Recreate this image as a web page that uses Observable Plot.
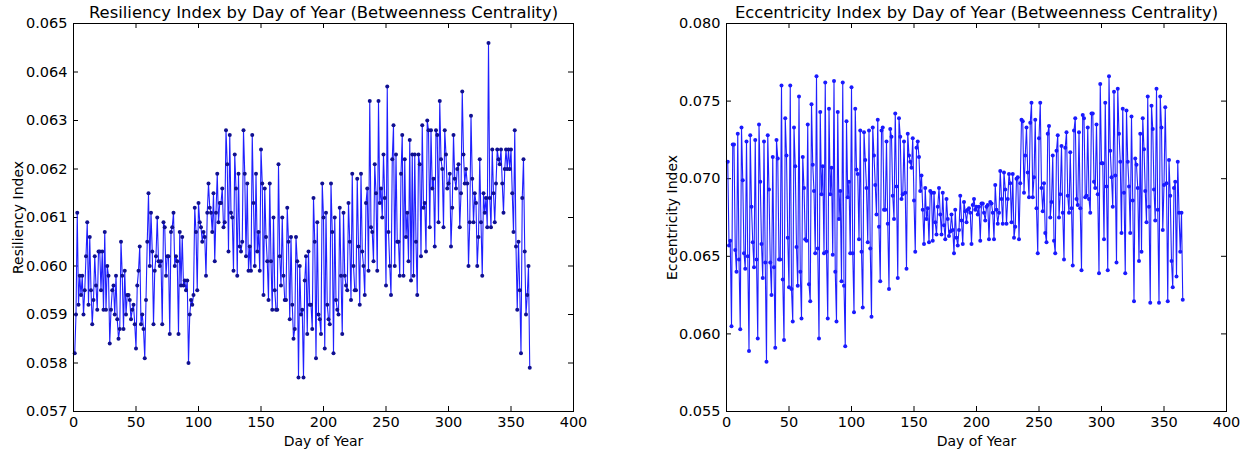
<!DOCTYPE html>
<html>
<head>
<meta charset="utf-8">
<script src="https://cdn.jsdelivr.net/npm/d3@7"></script>
<script src="https://cdn.jsdelivr.net/npm/@observablehq/plot@0.6"></script>
<style>
  html, body { margin: 0; padding: 0; background: #fff; }
  #wrap { display: flex; flex-direction: row; width: 1245px; height: 455px; }
  svg { overflow: visible; }
</style>
</head>
<body>
<div id="wrap"></div>
<script>
// ---- Data ----
const resiliency = [
0.0582,0.0590,0.0611,0.0592,0.0598,0.0594,0.0598,0.0590,0.0595,0.0602,
0.0609,0.0592,0.0606,0.0595,0.0588,0.0593,0.0602,0.0596,0.0591,0.0603,
0.0603,0.0595,0.0603,0.0591,0.0607,0.0591,0.0600,0.0598,0.0584,0.0591,
0.0595,0.0596,0.0590,0.0598,0.0589,0.0585,0.0587,0.0605,0.0598,0.0587,
0.0599,0.0590,0.0594,0.0594,0.0593,0.0589,0.0591,0.0592,0.0588,0.0583,
0.0596,0.0599,0.0604,0.0588,0.0590,0.0587,0.0581,0.0593,0.0605,0.0615,
0.0600,0.0611,0.0603,0.0588,0.0599,0.0602,0.0610,0.0601,0.0600,0.0601,
0.0588,0.0609,0.0608,0.0598,0.0602,0.0602,0.0586,0.0607,0.0608,0.0611,
0.0600,0.0602,0.0601,0.0586,0.0607,0.0596,0.0606,0.0596,0.0597,0.0595,
0.0597,0.0580,0.0590,0.0593,0.0592,0.0594,0.0612,0.0607,0.0595,0.0613,
0.0609,0.0608,0.0605,0.0607,0.0606,0.0598,0.0611,0.0617,0.0612,0.0611,
0.0607,0.0615,0.0601,0.0611,0.0619,0.0609,0.0613,0.0613,0.0616,0.0608,
0.0609,0.0628,0.0621,0.0603,0.0627,0.0611,0.0610,0.0599,0.0623,0.0616,
0.0598,0.0619,0.0604,0.0603,0.0605,0.0628,0.0619,0.0602,0.0617,0.0599,
0.0604,0.0599,0.0627,0.0613,0.0600,0.0619,0.0603,0.0607,0.0599,0.0624,
0.0617,0.0594,0.0616,0.0606,0.0601,0.0593,0.0617,0.0601,0.0591,0.0610,
0.0595,0.0591,0.0591,0.0621,0.0602,0.0596,0.0610,0.0598,0.0593,0.0593,
0.0612,0.0605,0.0589,0.0606,0.0592,0.0585,0.0587,0.0606,0.0601,0.0577,
0.0600,0.0590,0.0591,0.0577,0.0597,0.0602,0.0586,0.0603,0.0592,0.0592,
0.0587,0.0614,0.0605,0.0581,0.0609,0.0590,0.0589,0.0586,0.0617,0.0610,
0.0583,0.0611,0.0592,0.0589,0.0588,0.0617,0.0607,0.0582,0.0610,0.0593,
0.0591,0.0590,0.0612,0.0598,0.0586,0.0611,0.0598,0.0596,0.0595,0.0613,
0.0605,0.0593,0.0619,0.0600,0.0595,0.0595,0.0618,0.0604,0.0592,0.0619,
0.0603,0.0600,0.0594,0.0613,0.0616,0.0599,0.0634,0.0608,0.0607,0.0601,
0.0621,0.0615,0.0599,0.0634,0.0613,0.0616,0.0610,0.0623,0.0614,0.0596,
0.0637,0.0607,0.0600,0.0594,0.0622,0.0629,0.0600,0.0623,0.0605,0.0605,
0.0598,0.0619,0.0627,0.0598,0.0622,0.0606,0.0611,0.0601,0.0626,0.0597,
0.0623,0.0598,0.0623,0.0605,0.0594,0.0623,0.0621,0.0602,0.0629,0.0612,
0.0613,0.0603,0.0630,0.0628,0.0608,0.0628,0.0616,0.0618,0.0604,0.0628,
0.0627,0.0609,0.0634,0.0622,0.0620,0.0608,0.0628,0.0623,0.0616,0.0617,
0.0619,0.0604,0.0612,0.0627,0.0618,0.0616,0.0620,0.0621,0.0608,0.0615,
0.0636,0.0623,0.0617,0.0620,0.0617,0.0600,0.0609,0.0631,0.0618,0.0609,
0.0615,0.0613,0.0600,0.0606,0.0622,0.0609,0.0598,0.0615,0.0611,0.0614,
0.0608,0.0646,0.0614,0.0608,0.0624,0.0615,0.0609,0.0617,0.0624,0.0622,
0.0621,0.0624,0.0617,0.0611,0.0620,0.0624,0.0620,0.0624,0.0620,0.0624,
0.0615,0.0607,0.0628,0.0604,0.0591,0.0605,0.0595,0.0582,0.0614,0.0622,
0.0603,0.0590,0.0594,0.0600,0.0579
];

const eccentricity = [
0.0711,0.0657,0.0660,0.0605,0.0722,0.0722,0.0654,0.0640,0.0729,0.0648,
0.0603,0.0733,0.0699,0.0652,0.0642,0.0724,0.0650,0.0589,0.0728,0.0682,
0.0659,0.0643,0.0725,0.0648,0.0597,0.0735,0.0698,0.0658,0.0636,0.0724,
0.0646,0.0582,0.0728,0.0693,0.0646,0.0625,0.0714,0.0643,0.0591,0.0725,
0.0713,0.0648,0.0648,0.0760,0.0635,0.0596,0.0739,0.0715,0.0662,0.0630,
0.0760,0.0629,0.0608,0.0733,0.0708,0.0656,0.0631,0.0753,0.0640,0.0610,
0.0714,0.0694,0.0661,0.0660,0.0735,0.0632,0.0621,0.0748,0.0709,0.0692,
0.0652,0.0766,0.0655,0.0597,0.0743,0.0690,0.0708,0.0652,0.0762,0.0653,
0.0610,0.0745,0.0690,0.0707,0.0651,0.0763,0.0640,0.0608,0.0743,0.0674,
0.0692,0.0634,0.0762,0.0631,0.0592,0.0737,0.0688,0.0698,0.0652,0.0759,
0.0652,0.0614,0.0745,0.0706,0.0703,0.0661,0.0731,0.0653,0.0617,0.0730,
0.0712,0.0694,0.0659,0.0731,0.0655,0.0611,0.0733,0.0715,0.0696,0.0677,
0.0738,0.0669,0.0634,0.0731,0.0733,0.0680,0.0680,0.0724,0.0671,0.0629,
0.0732,0.0727,0.0689,0.0674,0.0742,0.0695,0.0636,0.0739,0.0727,0.0687,
0.0690,0.0724,0.0691,0.0642,0.0729,0.0715,0.0711,0.0707,0.0726,0.0686,
0.0653,0.0720,0.0724,0.0714,0.0692,0.0702,0.0680,0.0658,0.0694,0.0674,
0.0681,0.0659,0.0692,0.0691,0.0660,0.0691,0.0672,0.0664,0.0682,0.0694,
0.0677,0.0664,0.0691,0.0670,0.0661,0.0687,0.0674,0.0663,0.0666,0.0677,
0.0667,0.0652,0.0680,0.0662,0.0657,0.0667,0.0689,0.0673,0.0658,0.0685,
0.0679,0.0672,0.0680,0.0681,0.0678,0.0658,0.0683,0.0687,0.0680,0.0682,
0.0677,0.0682,0.0660,0.0684,0.0684,0.0678,0.0673,0.0682,0.0683,0.0661,
0.0685,0.0684,0.0678,0.0661,0.0696,0.0680,0.0671,0.0678,0.0705,0.0687,
0.0671,0.0704,0.0693,0.0671,0.0687,0.0703,0.0697,0.0672,0.0703,0.0662,
0.0669,0.0700,0.0701,0.0661,0.0697,0.0738,0.0737,0.0691,0.0715,0.0733,
0.0704,0.0688,0.0736,0.0749,0.0688,0.0701,0.0738,0.0681,0.0652,0.0726,
0.0749,0.0694,0.0679,0.0697,0.0665,0.0659,0.0729,0.0734,0.0675,0.0685,
0.0715,0.0660,0.0652,0.0718,0.0728,0.0675,0.0690,0.0721,0.0678,0.0648,
0.0720,0.0730,0.0689,0.0678,0.0717,0.0681,0.0644,0.0731,0.0739,0.0687,
0.0683,0.0730,0.0681,0.0641,0.0741,0.0739,0.0688,0.0689,0.0733,0.0687,
0.0678,0.0742,0.0742,0.0698,0.0694,0.0735,0.0690,0.0639,0.0761,0.0710,
0.0710,0.0661,0.0749,0.0695,0.0641,0.0766,0.0718,0.0701,0.0682,0.0756,
0.0702,0.0646,0.0758,0.0729,0.0711,0.0665,0.0745,0.0691,0.0639,0.0744,
0.0711,0.0695,0.0665,0.0740,0.0686,0.0621,0.0713,0.0709,0.0694,0.0647,
0.0729,0.0653,0.0739,0.0719,0.0692,0.0672,0.0753,0.0682,0.0620,0.0747,
0.0732,0.0693,0.0673,0.0758,0.0680,0.0620,0.0753,0.0733,0.0667,0.0696,
0.0746,0.0697,0.0621,0.0712,0.0689,0.0647,0.0630,0.0694,0.0698,0.0637,
0.0711,0.0678,0.0653,0.0678,0.0622
];

const xTicks = [0, 50, 100, 150, 200, 250, 300, 350, 400];
const yTicksLeft = [0.057, 0.058, 0.059, 0.060, 0.061, 0.062, 0.063, 0.064, 0.065];
const yTicksRight = [0.055, 0.060, 0.065, 0.070, 0.075, 0.080];

const panels = [
  {
    title: "Resiliency Index by Day of Year (Betweenness Centrality)",
    yLabel: "Resiliency Index",
    xLabel: "Day of Year",
    values: resiliency,
    yTicks: yTicksLeft,
    width: 622, marginLeft: 73, marginRight: 49, yLabelDx: -55,
    dotFill: "#101090"
  },
  {
    title: "Eccentricity Index by Day of Year (Betweenness Centrality)",
    yLabel: "Eccentricity Index",
    xLabel: "Day of Year",
    values: eccentricity,
    yTicks: yTicksRight,
    width: 623, marginLeft: 104, marginRight: 19, yLabelDx: -54,
    dotFill: "#1a1aff"
  }
];

const H = 455, MT = 23, MB = 44;
const font = "DejaVu Sans, Liberation Sans, sans-serif";

for (const p of panels) {
  const data = p.values.map((v, i) => ({day: i + 1, value: v}));
  const fw = p.width - p.marginLeft - p.marginRight;
  const fh = H - MT - MB;
  const tl = 5;
  const chart = Plot.plot({
    width: p.width,
    height: H,
    marginLeft: p.marginLeft,
    marginRight: p.marginRight,
    marginTop: MT,
    marginBottom: MB,
    style: {fontFamily: font, fontSize: "14px", color: "#000", background: "#fff"},
    x: {domain: [0, 400], ticks: xTicks, tickFormat: d3.format("d")},
    y: {domain: [p.yTicks[0], p.yTicks[p.yTicks.length - 1]], ticks: p.yTicks, tickFormat: d3.format(".3f")},
    marks: [
      Plot.axisX(xTicks, {tickSize: 0, tickPadding: 5, fontSize: 14.5, label: null}),
      Plot.axisY(p.yTicks, {tickSize: 0, tickPadding: 6, fontSize: 14.5, label: null, tickFormat: d3.format(".3f")}),
      // inward ticks on all four sides
      Plot.tickX(xTicks, {x: d => d, insetTop: fh - tl, stroke: "#000"}),
      Plot.tickX(xTicks, {x: d => d, insetBottom: fh - tl, stroke: "#000"}),
      Plot.tickY(p.yTicks, {y: d => d, insetRight: fw - tl, stroke: "#000"}),
      Plot.tickY(p.yTicks, {y: d => d, insetLeft: fw - tl, stroke: "#000"}),
      Plot.line(data, {x: "day", y: "value", stroke: "#1f1fff", strokeWidth: 1.1}),
      Plot.dot(data, {x: "day", y: "value", r: 2, fill: p.dotFill, stroke: null}),
      Plot.frame({stroke: "#000", strokeWidth: 1}),
      Plot.text([p.title], {frameAnchor: "top", dy: -11, lineAnchor: "middle", textAnchor: "middle", fontSize: 16.4, fill: "#000", text: d => d}),
      Plot.text([p.xLabel], {frameAnchor: "bottom", dy: 30, lineAnchor: "middle", textAnchor: "middle", fontSize: 14, fill: "#000", text: d => d}),
      Plot.text([p.yLabel], {frameAnchor: "left", dx: p.yLabelDx, rotate: -90, lineAnchor: "middle", textAnchor: "middle", fontSize: 14, fill: "#000", text: d => d})
    ]
  });
  document.getElementById("wrap").appendChild(chart);
}
</script>
</body>
</html>
